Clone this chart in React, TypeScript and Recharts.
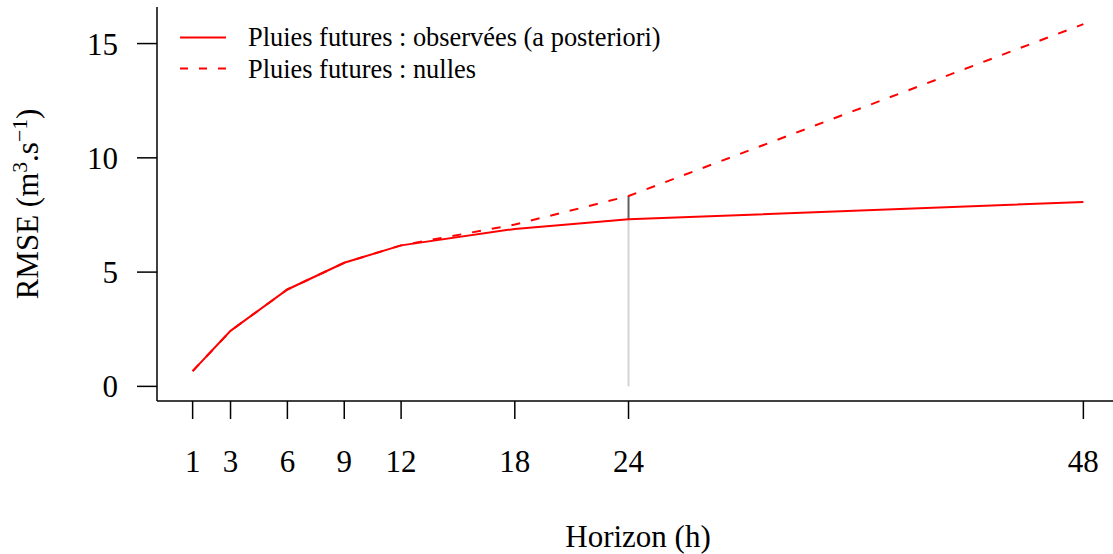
import React from "react";
import {
  Legend,
  Line,
  LineChart,
  ReferenceLine,
  XAxis,
  YAxis,
} from "recharts";

// horizons de prévision (h)
const horizons = [1, 3, 6, 9, 12, 18, 24, 48];
// RMSE avec pluies futures observées
const rmseObserved = [0.67, 2.43, 4.24, 5.41, 6.17, 6.89, 7.31, 8.07];
// RMSE avec pluies futures nulles
const rmseNull = [0.67, 2.43, 4.24, 5.41, 6.17, 7.08, 8.33, 15.85];

const xTicks = [1, 3, 6, 9, 12, 18, 24, 48];
const yTicks = [0, 5, 10, 15];

const seriesNames = [
  "Pluies futures : observées (a posteriori)",
  "Pluies futures : nulles",
];

// marqueur vertical à 24 h
const markerH = 24;
const markerIdx = horizons.indexOf(markerH);

const data = horizons.map((h, i) => ({
  h,
  obs: rmseObserved[i],
  nul: rmseNull[i],
}));

const FONT = "'Liberation Serif', 'Times New Roman', serif";
const DASH = "9 11";

function LegendBox() {
  return (
    <svg width={760} height={90} style={{ display: "block" }}>
      <line x1={180} x2={226} y1={37.5} y2={37.5} stroke="#ff0000" strokeWidth={2} />
      <line
        x1={180}
        x2={226}
        y1={68.5}
        y2={68.5}
        stroke="#ff0000"
        strokeWidth={2}
        strokeDasharray="8 11"
      />
      <text x={248} y={46} fontFamily={FONT} fontSize={26.4} fill="#000">
        {seriesNames[0]}
      </text>
      <text x={248} y={77.5} fontFamily={FONT} fontSize={26.4} fill="#000">
        {seriesNames[1]}
      </text>
    </svg>
  );
}

function YLabel(props: any) {
  const vb = props.viewBox || { y: 7, height: 394 };
  const cy = vb.y + vb.height / 2;
  const x = 38;
  return (
    <text
      x={x}
      y={cy}
      transform={`rotate(-90 ${x} ${cy})`}
      textAnchor="middle"
      fontFamily={FONT}
      fontSize={31}
      fill="#000"
    >
      RMSE (m
      <tspan dy={-11} fontSize={21.7}>
        3
      </tspan>
      <tspan dy={11}>.s</tspan>
      <tspan dy={-11} fontSize={21.7}>
        −1
      </tspan>
      <tspan dy={11}>)</tspan>
    </text>
  );
}

function XLabel(props: any) {
  const vb = props.viewBox || { x: 157, width: 962 };
  return (
    <text
      x={vb.x + vb.width / 2}
      y={546.5}
      textAnchor="middle"
      fontFamily={FONT}
      fontSize={31}
      fill="#000"
    >
      Horizon (h)
    </text>
  );
}

export default function App() {
  const tickStyle = { fill: "#000", fontSize: 31, fontFamily: FONT };
  return (
    <div
      style={{
        position: "absolute",
        left: 0,
        top: 0,
        width: 1113,
        height: 554,
        overflow: "hidden",
        background: "#fff",
      }}
    >
      <LineChart
        width={1125}
        height={554}
        data={data}
        margin={{ top: 7, right: 6, bottom: 0, left: 0 }}
      >
        <XAxis
          xAxisId="top"
          orientation="top"
          type="number"
          dataKey="h"
          domain={[-0.88, 49.88]}
          height={0}
          tick={false}
          tickLine={false}
          axisLine={{ stroke: "#000", strokeWidth: 1.5 }}
        />
        <XAxis
          type="number"
          dataKey="h"
          domain={[-0.88, 49.88]}
          allowDataOverflow
          ticks={xTicks}
          interval={0}
          height={153}
          tickSize={18}
          tickMargin={31}
          tick={tickStyle}
          tickLine={{ stroke: "#000", strokeWidth: 1.5 }}
          axisLine={{ stroke: "#000", strokeWidth: 1.5 }}
          label={<XLabel />}
        />
        <YAxis
          type="number"
          domain={[-0.64, 16.6]}
          allowDataOverflow
          ticks={yTicks}
          interval={0}
          width={157}
          tickSize={20}
          tickMargin={19}
          tick={tickStyle}
          tickLine={{ stroke: "#000", strokeWidth: 1.5 }}
          axisLine={{ stroke: "#000", strokeWidth: 1.5 }}
          label={<YLabel />}
        />
        <ReferenceLine
          segment={[
            { x: markerH, y: 0 },
            { x: markerH, y: rmseObserved[markerIdx] },
          ]}
          stroke="#d3d3d3"
          strokeWidth={2}
        />
        <ReferenceLine
          segment={[
            { x: markerH, y: rmseObserved[markerIdx] },
            { x: markerH, y: rmseNull[markerIdx] },
          ]}
          stroke="#5f5f5f"
          strokeWidth={2}
        />
        <Line
          type="linear"
          dataKey="nul"
          stroke="#ff0000"
          strokeWidth={2}
          strokeDasharray={DASH}
          dot={false}
          isAnimationActive={false}
        />
        <Line
          type="linear"
          dataKey="obs"
          stroke="#ff0000"
          strokeWidth={2}
          dot={false}
          isAnimationActive={false}
        />
        <Legend
          layout="horizontal"
          verticalAlign="middle"
          align="center"
          content={() => <LegendBox />}
          wrapperStyle={{ top: 0, left: 0, width: 760, height: 90 }}
        />
      </LineChart>
    </div>
  );
}
